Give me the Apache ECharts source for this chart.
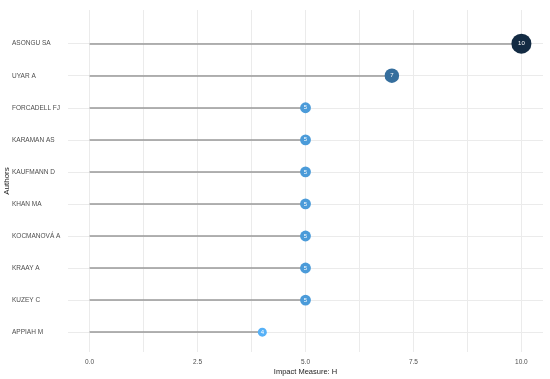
<!DOCTYPE html>
<html lang="en" style="height: 100%">
<head>
    <meta charset="UTF-8">
    <title>Impact Measure: H</title>
    <script type="text/javascript" src="https://cdn.jsdelivr.net/npm/echarts@6/dist/echarts.min.js"></script>
</head>
<body style="height: 100%; margin: 0; background: #fff">
    <div id="container" style="width: 550px; height: 379px"></div>
    <script type="text/javascript">
    var authors = ['ASONGU SA', 'UYAR A', 'FORCADELL FJ', 'KARAMAN AS', 'KAUFMANN D',
        'KHAN MA', 'KOCMANOVÁ A', 'KRAAY A', 'KUZEY C', 'APPIAH M'];
    var hIndex = [10, 7, 5, 5, 5, 5, 5, 5, 5, 4];
    var xLabels = [0, 2.5, 5, 7.5, 10];
    var xGrid = [0, 1.25, 2.5, 3.75, 5, 6.25, 7.5, 8.75, 10];

    var rows = authors.map(function(a, i) { return i; });
    var font = 'Liberation Sans, Arial, sans-serif';

    var myChart = echarts.init(document.getElementById('container'));

    var option = {
        backgroundColor: '#fff',
        animation: false,
        grid: { left: 68, right: 7, top: 10, bottom: 27, outerBoundsMode: 'none', containLabel: false },
        visualMap: {
            show: false,
            type: 'continuous',
            seriesIndex: 1,
            dimension: 0,
            min: 4,
            max: 10,
            inRange: { color: ['#56B1F7', '#132B43'], symbolSize: [9, 20] }
        },
        xAxis: {
            type: 'value',
            min: -0.5,
            max: 10.5,
            name: 'Impact Measure: H',
            nameLocation: 'middle',
            nameGap: 16,
            nameMoveOverlap: false,
            nameTextStyle: { color: '#222', fontSize: 7.5, fontFamily: font },
            axisLine: { show: false },
            axisTick: { show: false, customValues: xGrid },
            axisLabel: {
                customValues: xLabels,
                color: '#4d4d4d', fontSize: 6.5, fontFamily: font, margin: 7,
                formatter: function(v) { return v.toFixed(1); }
            },
            splitLine: { show: true, lineStyle: { color: '#ebebeb', width: 1 } }
        },
        yAxis: {
            type: 'value',
            inverse: true,
            min: -1.05,
            max: 9.62,
            name: 'Authors',
            nameLocation: 'middle',
            nameRotate: 90,
            nameGap: 57,
            nameMoveOverlap: false,
            nameTextStyle: { color: '#222', fontSize: 8, fontFamily: font },
            axisLine: { show: false },
            axisTick: { show: false, customValues: rows },
            axisLabel: {
                customValues: rows,
                align: 'left',
                margin: 56,
                color: '#4d4d4d', fontSize: 6.5, fontFamily: font,
                formatter: function(v) { return authors[v]; }
            },
            splitLine: { show: true, lineStyle: { color: '#ebebeb', width: 1 } }
        },
        series: [{
            type: 'lines',
            coordinateSystem: 'cartesian2d',
            silent: true,
            lineStyle: { color: '#999', width: 1.5, opacity: 1 },
            data: hIndex.map(function(v, i) {
                return { coords: [[0, i], [v, i]] };
            })
        }, {
            type: 'scatter',
            z: 3,
            itemStyle: { opacity: 1 },
            label: {
                show: true,
                position: 'inside',
                color: '#fff',
                fontSize: 6,
                fontFamily: font,
                formatter: function(p) { return p.value[0]; }
            },
            data: hIndex.map(function(v, i) { return [v, i]; })
        }]
    };

    myChart.setOption(option);
    </script>
</body>
</html>
